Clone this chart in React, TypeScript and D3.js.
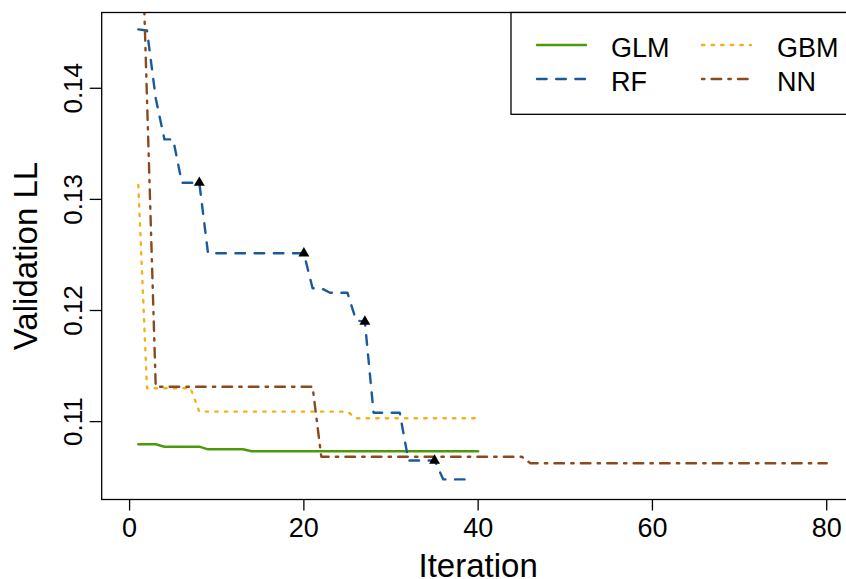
import React from "react";
import * as d3 from "d3";

// ---- data ----
const glmValues = [
  0.10796, 0.10796, 0.10796, 0.10774, 0.10774, 0.10774, 0.10774, 0.10774,
  0.10751, 0.10751, 0.10751, 0.10751, 0.10751, 0.10733, 0.10733, 0.10733,
  0.10733, 0.10733, 0.10733, 0.10733, 0.10733, 0.10733, 0.10733, 0.10733,
  0.10733, 0.10733, 0.10733, 0.10733, 0.10733, 0.10733, 0.10733, 0.10733,
  0.10733, 0.10733, 0.10733, 0.10733, 0.10733, 0.10733, 0.10733, 0.10733,
];
const gbmValues = [
  0.1313, 0.113, 0.113, 0.113, 0.113, 0.113, 0.113, 0.1109, 0.1109, 0.1109,
  0.1109, 0.1109, 0.1109, 0.1109, 0.1109, 0.1109, 0.1109, 0.1109, 0.1109,
  0.1109, 0.1109, 0.1109, 0.1109, 0.1109, 0.1109, 0.1103, 0.1103, 0.1103,
  0.1103, 0.1103, 0.1103, 0.1103, 0.1103, 0.1103, 0.1103, 0.1103, 0.1103,
  0.1103, 0.1103, 0.1103,
];
const rfValues = [
  0.1453, 0.1452, 0.1391, 0.1354, 0.1354, 0.1315, 0.1315, 0.1315, 0.12515,
  0.12515, 0.12515, 0.12515, 0.12515, 0.12515, 0.12515, 0.12515, 0.12515,
  0.12515, 0.12515, 0.12515, 0.122, 0.122, 0.1216, 0.1216, 0.1216, 0.1191,
  0.119, 0.1108, 0.1108, 0.1108, 0.1108, 0.1065, 0.1065, 0.1065, 0.1065,
  0.1048, 0.1048, 0.1048, 0.1048,
];
const nnValues = [
  0.165, 0.139, 0.11314, 0.11314, 0.11314, 0.11314, 0.11314, 0.11314, 0.11314,
  0.11314, 0.11314, 0.11314, 0.11314, 0.11314, 0.11314, 0.11314, 0.11314,
  0.11314, 0.11314, 0.11314, 0.11314, 0.10684, 0.10684, 0.10684, 0.10684,
  0.10684, 0.10684, 0.10684, 0.10684, 0.10684, 0.10684, 0.10684, 0.10684,
  0.10684, 0.10684, 0.10684, 0.10684, 0.10684, 0.10684, 0.10684, 0.10684,
  0.10684, 0.10684, 0.10684, 0.10684, 0.10625, 0.10625, 0.10625, 0.10625,
  0.10625, 0.10625, 0.10625, 0.10625, 0.10625, 0.10625, 0.10625, 0.10625,
  0.10625, 0.10625, 0.10625, 0.10625, 0.10625, 0.10625, 0.10625, 0.10625,
  0.10625, 0.10625, 0.10625, 0.10625, 0.10625, 0.10625, 0.10625, 0.10625,
  0.10625, 0.10625, 0.10625, 0.10625, 0.10625, 0.10625, 0.10625,
];
const rfMarkerIters = [8, 20, 27, 35];
const xTicks = [0, 20, 40, 60, 80];
const yTicks = [0.11, 0.12, 0.13, 0.14];
const seriesNames = ["GLM", "GBM", "RF", "NN"];

const W = 846;
const H = 579;
const FONT = "'Liberation Sans', Arial, sans-serif";
const LW = 2.4;

const colors: Record<string, string> = {
  GLM: "#4a9a0a",
  GBM: "#f2b21c",
  RF: "#1b5a9a",
  NN: "#8b4a1c",
};
const dashes: Record<string, string> = {
  GLM: "none",
  GBM: `${LW} ${3 * LW}`,
  RF: `${4 * LW} ${4 * LW}`,
  NN: `${LW} ${3 * LW} ${4 * LW} ${3 * LW}`,
};

export default function App() {
  const x = d3.scaleLinear().domain([-3.2, 83.2]).range([101.7, 854.6]);
  const y = d3.scaleLinear().domain([0.10299, 0.14682]).range([499.5, 12.5]);
  const [x0, x1] = x.range();
  const [y0, y1] = y.range();

  const toPts = (vals: number[]) => vals.map((v, i) => [i + 1, v] as [number, number]);
  const line = d3
    .line<[number, number]>()
    .x((d) => x(d[0]))
    .y((d) => y(d[1]));

  const series: Record<string, number[]> = {
    GLM: glmValues,
    GBM: gbmValues,
    RF: rfValues,
    NN: nnValues,
  };

  const tri = (cx: number, cy: number) => {
    const r = 6.3;
    const xc = r * (Math.sqrt(3) / 2);
    const yc = r / 2;
    return `M${cx},${cy - r}L${cx + xc},${cy + yc}L${cx - xc},${cy + yc}Z`;
  };

  const legendItems = [
    { name: "GLM", lx: 537, ty: 45, tx: 611 },
    { name: "RF", lx: 537, ty: 79, tx: 611 },
    { name: "GBM", lx: 702, ty: 45, tx: 777 },
    { name: "NN", lx: 702, ty: 79, tx: 777 },
  ];

  return (
    <div style={{ position: "fixed", left: 0, top: 0 }}>
      <svg width={W} height={H} style={{ display: "block", background: "#fff" }} fontFamily={FONT}>
        <defs>
          <clipPath id="plotclip">
            <rect x={x0} y={y1} width={x1 - x0} height={y0 - y1} />
          </clipPath>
        </defs>
        <g clipPath="url(#plotclip)">
          {seriesNames.map((n) => (
            <path
              key={n}
              d={line(toPts(series[n])) || ""}
              fill="none"
              stroke={colors[n]}
              strokeWidth={LW}
              strokeDasharray={dashes[n]}
              strokeLinecap="round"
              strokeLinejoin="round"
            />
          ))}
          {rfMarkerIters.map((it) => (
            <path key={it} d={tri(x(it), y(rfValues[it - 1]))} fill="#000" />
          ))}
        </g>
        {/* box */}
        <rect x={x0} y={y1} width={x1 - x0} height={y0 - y1} fill="none" stroke="#000" strokeWidth={1.3} />
        {/* x axis */}
        {xTicks.map((t) => (
          <g key={t}>
            <line x1={x(t)} x2={x(t)} y1={y0} y2={y0 + 11} stroke="#000" strokeWidth={1.3} />
            <text x={x(t)} y={536.5} textAnchor="middle" fontSize={27} fill="#000">
              {t}
            </text>
          </g>
        ))}
        {/* y axis */}
        {yTicks.map((t) => (
          <g key={t}>
            <line x1={x0 - 12} x2={x0} y1={y(t)} y2={y(t)} stroke="#000" strokeWidth={1.3} />
            <text
              transform={`translate(82,${y(t)}) rotate(-90)`}
              textAnchor="middle"
              fontSize={26}
              fill="#000"
            >
              {t.toFixed(2)}
            </text>
          </g>
        ))}
        <text x={(x0 + x1) / 2} y={577} textAnchor="middle" fontSize={33} fill="#000">
          Iteration
        </text>
        <text
          transform={`translate(37,${(y0 + y1) / 2}) rotate(-90)`}
          textAnchor="middle"
          fontSize={33}
          fill="#000"
        >
          Validation LL
        </text>
        {/* legend */}
        <rect x={511} y={y1} width={360} height={101.8} fill="#fff" stroke="#000" strokeWidth={1.3} />
        {legendItems.map((it) => (
          <g key={it.name}>
            <line
              x1={it.lx}
              x2={it.lx + 49}
              y1={it.ty}
              y2={it.ty}
              stroke={colors[it.name]}
              strokeWidth={LW}
              strokeDasharray={dashes[it.name]}
              strokeLinecap="round"
            />
            <text x={it.tx} y={it.ty + 12.3} fontSize={27} fill="#000">
              {it.name}
            </text>
          </g>
        ))}
      </svg>
    </div>
  );
}
